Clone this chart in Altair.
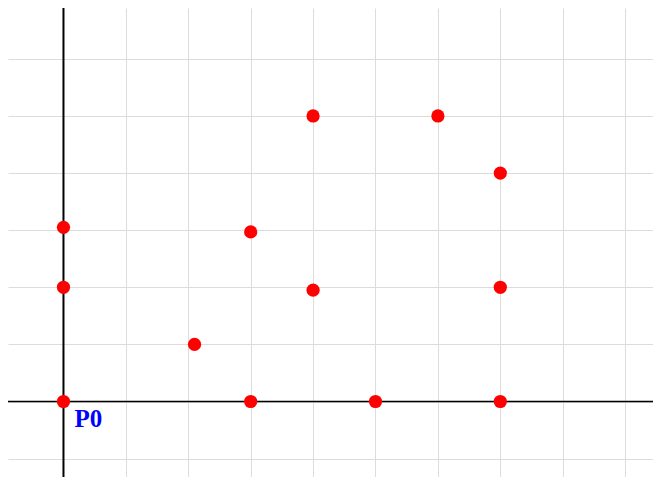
import altair as alt
import pandas as pd

# points
xs = [0, 0, 0, 2.1, 3, 3, 4, 4, 5, 6, 7, 7, 7]
ys = [0, 2, 3.05, 1, 2.97, 0, 5, 1.95, 0, 5, 4, 2, 0]

label_x = [0]
label_y = [0]
label_text = ["P0"]

x_grid = list(range(-1, 10))
y_grid = list(range(-1, 7))

pts = pd.DataFrame({"x": xs, "y": ys})
lab = pd.DataFrame({"x": label_x, "y": label_y, "t": label_text})

xdom = [-0.889, 9.447]
ydom = [-1.322, 6.891]

xs_ = alt.Scale(domain=xdom, nice=False, zero=False)
ys_ = alt.Scale(domain=ydom, nice=False, zero=False)

xax = alt.Axis(values=x_grid, labels=False, ticks=False, domain=False, title=None,
               grid=True, gridColor="#dcdcdc", gridWidth=1)
yax = alt.Axis(values=y_grid, labels=False, ticks=False, domain=False, title=None,
               grid=True, gridColor="#dcdcdc", gridWidth=1)

base = alt.Chart(pts)

points = base.mark_point(filled=True, color="#ff0000", size=175, opacity=1).encode(
    x=alt.X("x:Q", scale=xs_, axis=xax),
    y=alt.Y("y:Q", scale=ys_, axis=yax),
)

vaxis = alt.Chart(pd.DataFrame({"x": [0]})).mark_rule(color="black", strokeWidth=2).encode(
    x=alt.X("x:Q", scale=xs_),
)
haxis = alt.Chart(pd.DataFrame({"y": [0]})).mark_rule(color="black", strokeWidth=1.5).encode(
    y=alt.Y("y:Q", scale=ys_),
)

text = alt.Chart(lab).mark_text(
    align="left", baseline="top", dx=11, dy=5, color="#0000ff",
    font="Liberation Serif", fontWeight="bold", fontSize=25,
).encode(
    x=alt.X("x:Q", scale=xs_),
    y=alt.Y("y:Q", scale=ys_),
    text="t:N",
)

chart = alt.layer(vaxis, haxis, points, text).properties(
    width=645, height=469, padding=0,
    autosize=alt.AutoSizeParams(type="none"),
).configure_view(stroke=None)

chart.save("out.html", embed_options={"renderer": "svg", "actions": False})
